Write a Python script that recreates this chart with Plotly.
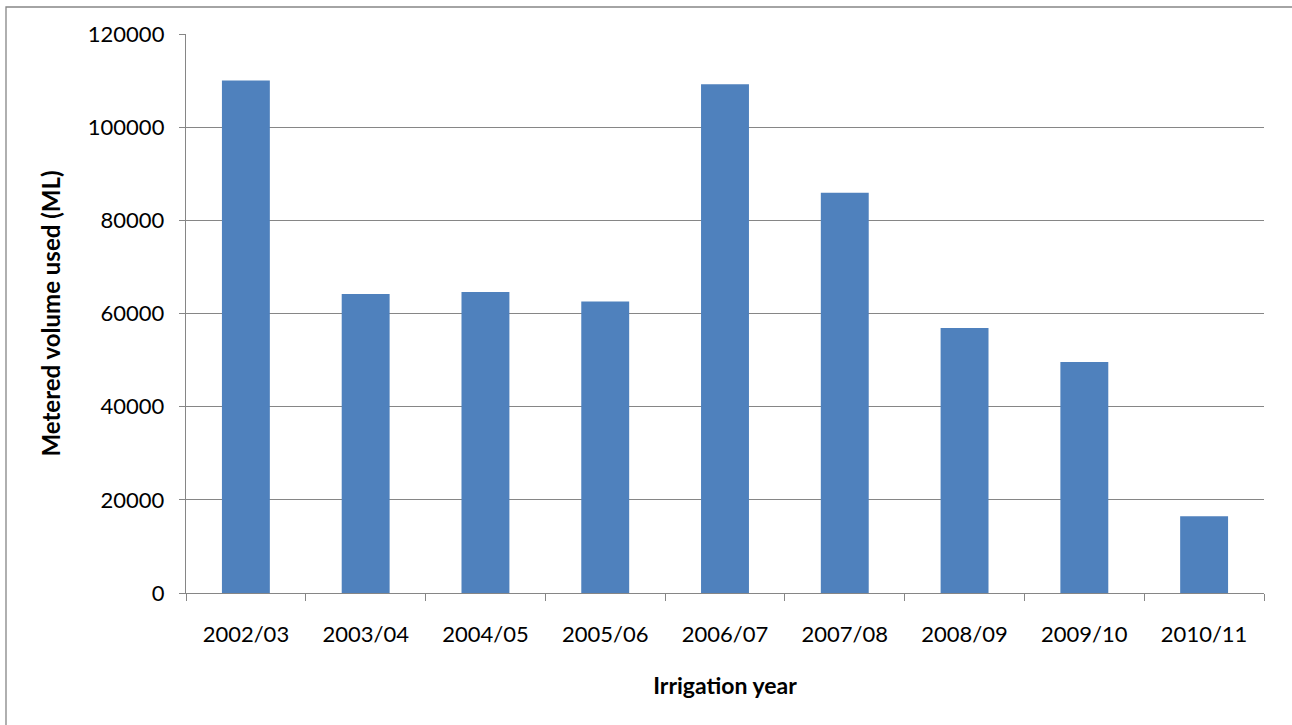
import plotly.graph_objects as go

years = ["2002/03", "2003/04", "2004/05", "2005/06", "2006/07",
         "2007/08", "2008/09", "2009/10", "2010/11"]
volume_ml = [110000, 64200, 64600, 62600, 109200, 85900, 56900, 49600, 16500]
y_ticks = [0, 20000, 40000, 60000, 80000, 100000, 120000]

FONT = "Lato"
GRID = "#868686"

fig = go.Figure(
    go.Bar(
        x=years,
        y=volume_ml,
        marker=dict(color="#4F81BD", line=dict(width=0)),
        hoverinfo="x+y",
    )
)

L, R, T, B = 186, 28, 34, 132
W, H = 1292, 725
pw, ph = W - L - R, H - T - B

fig.update_layout(
    width=W,
    height=H,
    autosize=False,
    margin=dict(l=L, r=R, t=T, b=B, pad=0),
    paper_bgcolor="white",
    plot_bgcolor="white",
    bargap=0.6,
    showlegend=False,
    font=dict(family=FONT, size=22, color="black"),
    shapes=[
        dict(
            type="rect", xref="paper", yref="paper", layer="below",
            x0=(6 - L) / pw, x1=(W + 20 - L) / pw,
            y0=(T + ph - (H + 20)) / ph, y1=(T + ph - 7) / ph,
            line=dict(color=GRID, width=1.3),
            fillcolor="rgba(0,0,0,0)",
        )
    ],
)

fig.update_xaxes(
    type="category",
    showline=True,
    linecolor=GRID,
    linewidth=1.4,
    ticks="outside",
    tickson="boundaries",
    ticklen=7,
    tickwidth=1.4,
    tickcolor=GRID,
    showgrid=False,
    tickfont=dict(family=FONT, size=22, color="black"),
    ticklabelstandoff=21,
    title=dict(text="<b>Irrigation year</b>", font=dict(family=FONT, size=23, color="black"), standoff=32),
)

fig.update_yaxes(
    range=[0, 120000],
    tickvals=y_ticks,
    tickformat="d",
    showline=True,
    linecolor=GRID,
    linewidth=1.4,
    ticks="outside",
    ticklen=6,
    tickwidth=1.4,
    tickcolor=GRID,
    showgrid=True,
    gridcolor=GRID,
    gridwidth=1.4,
    zeroline=False,
    tickfont=dict(family=FONT, size=22, color="black"),
    ticklabelstandoff=10,
    title=dict(text="<b>Metered volume used (ML)</b>", font=dict(family=FONT, size=24, color="black"), standoff=20),
)

fig.write_html(
    "out.html",
    config={"displayModeBar": False},
    post_script="document.body.style.margin='0';document.body.style.overflow='hidden';",
)
